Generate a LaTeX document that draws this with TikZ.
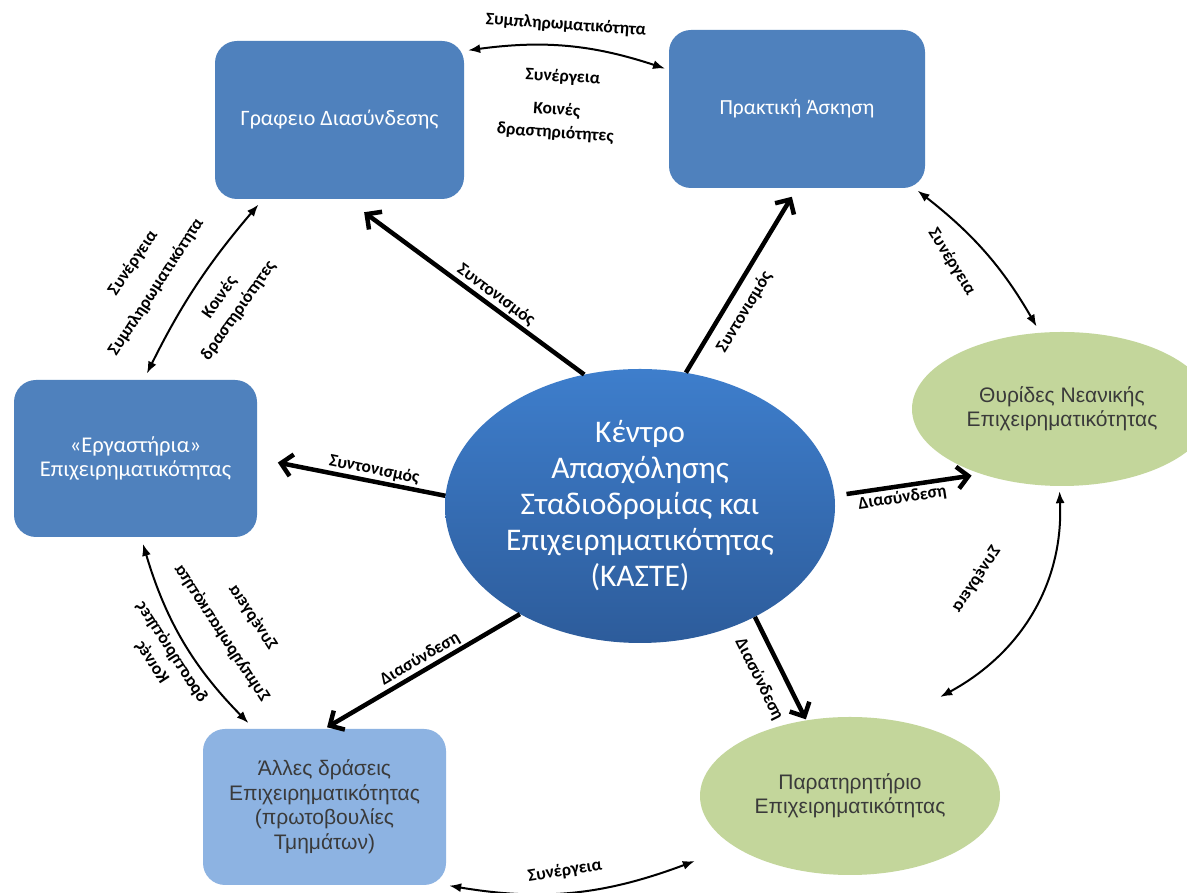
\documentclass[tikz,border=0pt]{standalone}
\usepackage{fontspec}
\setmainfont{Carlito}
\newfontfamily\arialfont{Liberation Sans}
\usepackage{graphicx}
\usetikzlibrary{arrows.meta,shapes.geometric}

\definecolor{unitblue}{RGB}{79,129,189}
\definecolor{paleblue}{RGB}{141,179,226}
\definecolor{sage}{RGB}{195,214,155}
\definecolor{hubtop}{RGB}{62,126,204}
\definecolor{hubbot}{RGB}{45,92,155}
\definecolor{ink}{RGB}{58,58,58}

\tikzset{
  unit/.style={rectangle, rounded corners=22pt, fill=unitblue, text=white,
    align=center, minimum width=249pt, minimum height=158pt,
    font=\fontsize{21.5}{24}\selectfont},
  hub/.style={ellipse, top color=hubtop, bottom color=hubbot, text=white,
    align=center, minimum width=390pt, minimum height=274pt, inner sep=0pt,
    font=\fontsize{31.5}{36}\selectfont},
  pod/.style={ellipse, fill=sage, text=ink, align=center,
    minimum width=300pt, minimum height=154pt,
    font=\arialfont\fontsize{21}{24}\selectfont},
  lbl/.style={font=\bfseries\fontsize{17.5}{23}\selectfont, inner sep=2pt},
  lead/.style={line width=4.5pt},
  coop/.style={line width=2pt,
    arrows={Latex[length=12pt,width=9pt]-Latex[length=12pt,width=9pt]}}
}

\begin{document}
\begin{tikzpicture}[x=1pt,y=1pt,>={Straight Barb[length=11pt,width=22pt]}]
\useasboundingbox[fill=white] (0,0) rectangle (1187,893);

% units round the centre
\node[unit, font=\fontsize{22}{24}\selectfont] (graf) at (339.5,773) {Γραφειο Διασύνδεσης};
\node[unit, minimum width=256pt] (prakt) at (797,784) {Πρακτική Άσκηση};
\node[unit, minimum width=243pt, minimum height=157pt, font=\fontsize{22.5}{24}\selectfont] (ergast) at (135.5,434.5) {«Εργαστήρια»\\Επιχειρηματικότητας};
\node[unit, fill=paleblue, text=ink, minimum width=243pt, minimum height=156pt,
  font=\arialfont\fontsize{21}{24.5}\selectfont] (allo) at (324.5,86)
  {Άλλες δράσεις\\Επιχειρηματικότητας\\(πρωτοβουλίες\\Τμημάτων)};
\node[hub] (kaste) at (640,387) {Κέντρο\\Απασχόλησης\\Σταδιοδρομίας και\\Επιχειρηματικότητας\\(ΚΑΣΤΕ)};
\node[pod] (thyr) at (1062,484) {Θυρίδες Νεανικής\\Επιχειρηματικότητας};
\node[pod, minimum height=158pt] (parat) at (850,97) {Παρατηρητήριο\\Επιχειρηματικότητας};

% free ends near the observatory
\coordinate (pat-ne) at ([shift={(-16,43)}]parat.north east);
\coordinate (pat-sw) at ([shift={(-49,-9)}]parat.south west);

% coordination and liaison
\draw[lead, <-, shorten <=22pt] (graf.-85) -- node (c1) [lbl, sloped, above, pos=0.6] {Συντονισμός} (kaste.113);
\draw[lead, ->, shorten >=10pt] (kaste.71) -- node (c2) [lbl, sloped, below=7pt, pos=0.38] {Συντονισμός} (prakt.south);
\draw[lead, <-, shorten <=21pt] (ergast.east) -- node (c3) [lbl, sloped, above, pos=0.61] {Συντονισμός} (kaste.177);
\draw[lead, <-, shorten <=3pt] (allo.north) -- node (d1) [lbl, sloped, above, pos=0.52] {Διασύνδεση} (kaste.222);
\draw[lead, ->, shorten >=1pt] (kaste.-44) -- node (d2) [lbl, sloped, below=12pt, pos=0.5] {Διασύνδεση} (parat.120);
\draw[lead, ->, shorten <=12pt, shorten >=10pt] (kaste.3) -- node (d3) [lbl, sloped, below, pos=0.45] {Διασύνδεση} (thyr.219);

% cooperation
\draw[coop, shorten <=4pt, shorten >=4pt] (graf.29) to[bend left=13] (prakt.163);
\draw[coop, shorten <=7pt, shorten >=7pt] (ergast.84) to[bend left=7] (graf.226);
\draw[coop, shorten <=7pt, shorten >=8pt] (ergast.-86) to[bend right=14] (allo.132);
\draw[coop, shorten <=4pt, shorten >=7pt] (prakt.-34) to[bend left=11] (thyr.106);
\draw[coop, shorten <=5pt] (thyr.-92) to[bend left=32] (pat-ne);
\draw[coop, shorten <=3pt] (allo.south east) to[bend right=15] (pat-sw);

\node[lbl, rotate=-4] (s1) at (566,868) {Συμπληρωματικότητα};
\node[lbl, rotate=-3] (s2) at (563,816) {Συνέργεια};
\node[lbl, rotate=-4, align=center] (s3) at (556,771.5) {Κοινές\\δραστηριότητες};

\node[lbl, rotate=56] (s4) at (133,630) {Συνέργεια};
\node[lbl, rotate=57] (s5) at (156,606) {Συμπληρωματικότητα};
\node[lbl, rotate=55, align=center] (s6) at (229,589) {Κοινές\\δραστηριότητες};

\node[lbl, rotate=-57] (s7) at (253,276) {\reflectbox{Συνέργεια}};
\node[lbl, rotate=-57] (s8) at (222,260) {\reflectbox{Συμπληρωματικότητα}};
\node[lbl, rotate=-57] (s9) at (172,241) {\reflectbox{δραστηριότητες}};
\node[lbl, rotate=-57] (s10) at (152,231) {\reflectbox{Κοινές}};

\node[lbl, rotate=-58] (s11) at (952,631) {Συνέργεια};
\node[lbl, rotate=56] (s12) at (976,314) {\reflectbox{Συνέργεια}};
\node[lbl, rotate=9] (s13) at (565,22) {Συνέργεια};
\end{tikzpicture}
\end{document}
